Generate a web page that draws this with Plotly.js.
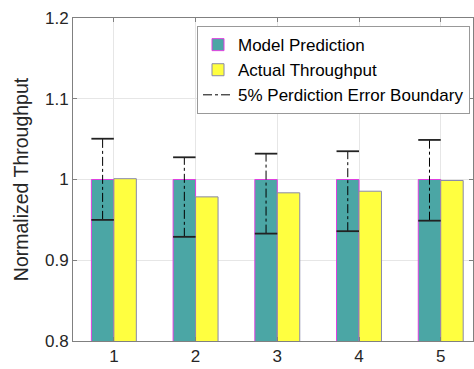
<!DOCTYPE html>
<html>
<head>
<script src="https://cdn.plot.ly/plotly-3.0.1.min.js"></script>
<style>html,body{margin:0;padding:0;background:#fff;}#chart{width:474px;height:369px;}</style>
</head>
<body>
<div id="chart"></div>
<script>
const categories = [1, 2, 3, 4, 5];
const modelPrediction = [1.0, 1.0, 1.0, 1.0, 1.0];
const actualThroughput = [1.001, 0.9785, 0.9835, 0.9855, 0.9988];
const boundUpper = [1.0505, 1.0275, 1.032, 1.035, 1.049];
const boundLower = [0.950, 0.929, 0.933, 0.936, 0.949];
const yTicks = [0.8, 0.9, 1, 1.1, 1.2];
const yTickLabels = ['0.8', '0.9', '1', '1.1', '1.2'];

const bargap = 0.45;
const barW = (1 - bargap) / 2;
const off = barW / 2;

const ex = [], ey = [];
const cx = [], cy = [];
categories.forEach((c, i) => {
  const xc = c - off;
  ex.push(xc, xc, null); ey.push(boundLower[i], boundUpper[i], null);
  cx.push(xc - barW / 2, xc + barW / 2, null); cy.push(boundUpper[i], boundUpper[i], null);
  cx.push(xc - barW / 2, xc + barW / 2, null); cy.push(boundLower[i], boundLower[i], null);
});

const traces = [
  {type: 'bar', x: categories, y: modelPrediction, name: 'Model Prediction',
   marker: {color: '#4BA6A5', line: {color: '#E040E0', width: 1}}},
  {type: 'bar', x: categories, y: actualThroughput, name: 'Actual Throughput',
   marker: {color: '#FFFF40', line: {color: '#8888AA', width: 1}}},
  {type: 'scatter', mode: 'lines', x: ex, y: ey, name: '5% Perdiction Error Boundary',
   line: {color: '#000', width: 1, dash: 'dashdot'}, connectgaps: false},
  {type: 'scatter', mode: 'lines', x: cx, y: cy, showlegend: false, hoverinfo: 'skip',
   line: {color: '#222', width: 1.8}, connectgaps: false}
];

const layout = {
  width: 474, height: 369,
  margin: {l: 73, r: 1, t: 18, b: 28},
  paper_bgcolor: '#fff', plot_bgcolor: '#fff',
  barmode: 'group', bargap: bargap, bargroupgap: 0,
  font: {family: 'Liberation Sans, Arial, sans-serif', color: '#262626', size: 17},
  xaxis: {range: [0.5, 5.395], tickvals: categories, ticktext: categories.map(String),
          showgrid: true, gridcolor: '#e6e6e6', zeroline: false,
          showline: true, linecolor: '#808080', mirror: 'allticks',
          ticks: 'inside', ticklen: 4, tickcolor: '#808080',
          tickfont: {size: 17, color: '#262626'}},
  yaxis: {range: [0.8, 1.2], tickvals: yTicks, ticktext: yTickLabels,
          showgrid: true, gridcolor: '#e6e6e6', zeroline: false,
          showline: true, linecolor: '#808080', mirror: 'allticks',
          ticks: 'inside', ticklen: 4, tickcolor: '#808080',
          tickfont: {size: 17, color: '#262626'},
          title: {text: 'Normalized Throughput', font: {size: 19.5, color: '#262626'}, standoff: 11}},
  legend: {x: 0.31, y: 0.975, xanchor: 'left', yanchor: 'top',
           bgcolor: '#fff', bordercolor: '#999', borderwidth: 1,
           font: {size: 17, color: '#000'}, tracegroupgap: 0, itemwidth: 30},
  showlegend: true
};

Plotly.newPlot('chart', traces, layout, {displayModeBar: false, staticPlot: true});
</script>
</body>
</html>
